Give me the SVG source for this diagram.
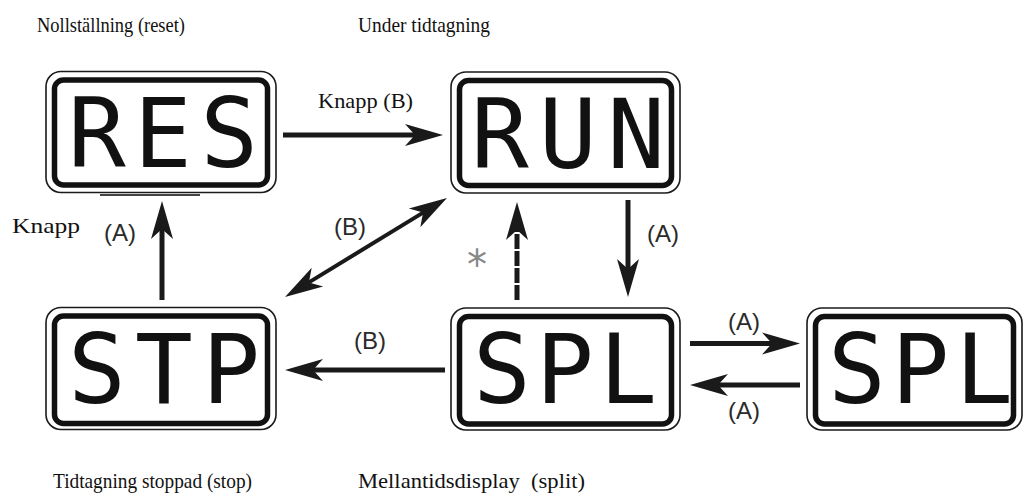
<svg xmlns="http://www.w3.org/2000/svg" width="1029" height="496" viewBox="0 0 1029 496">
<style>
.outer{fill:#fff;stroke:#1a1a1a;stroke-width:1.6}
.inner{fill:none;stroke:#111;stroke-width:5.5}
.lcd{font-family:"DejaVu Sans Mono",monospace;font-weight:normal;font-size:96px;fill:#111}
.cap{font-family:"Liberation Serif",serif;font-size:21px;fill:#111;white-space:pre}
.knapp{font-family:"Liberation Serif",serif;font-size:22px;fill:#111}
.lbl{font-family:"Liberation Sans",Arial,sans-serif;font-size:24px;fill:#2a2a2a;text-anchor:middle}
.ar{fill:none;stroke:#1a1a1a;stroke-width:5}
.dg{fill:none;stroke:#1a1a1a;stroke-width:4}
</style>
<defs>
<marker id="ah" viewBox="-12 -12 42 24" markerWidth="42" markerHeight="24" refX="0" refY="0" markerUnits="userSpaceOnUse" orient="auto-start-reverse">
<path d="M28,0 L-10,-11 L0,0 L-10,11 Z" fill="#1a1a1a"/>
</marker>
</defs>

<g id="captions">
<text class="cap" x="37" y="32" textLength="148" lengthAdjust="spacingAndGlyphs">Nollställning (reset)</text>
<text class="cap" x="358" y="32" textLength="132" lengthAdjust="spacingAndGlyphs">Under tidtagning</text>
<text class="cap" x="53" y="488" textLength="199" lengthAdjust="spacingAndGlyphs">Tidtagning stoppad (stop)</text>
<text class="cap" x="358" y="488" textLength="227" lengthAdjust="spacingAndGlyphs">Mellantidsdisplay  (split)</text>
</g>

<g id="node-res">
<rect class="outer" x="46" y="71.5" width="230" height="121" rx="15"/>
<rect class="inner" x="54.5" y="80" width="213" height="105" rx="9"/>
<text class="lcd" x="68" y="167" textLength="190" lengthAdjust="spacing">RES</text>
</g>

<g id="node-run">
<rect class="outer" x="451" y="72" width="229" height="121" rx="15"/>
<rect class="inner" x="459.5" y="80.5" width="212" height="105" rx="9"/>
<text class="lcd" x="471" y="168" textLength="194" lengthAdjust="spacing">RUN</text>
</g>

<g id="node-stp">
<rect class="outer" x="46" y="307.5" width="230" height="122" rx="15"/>
<rect class="inner" x="54.5" y="316" width="213" height="107.5" rx="9"/>
<text class="lcd" x="68" y="403" textLength="192" lengthAdjust="spacing">STP</text>
</g>

<g id="node-spl">
<rect class="outer" x="451" y="308" width="229" height="122" rx="15"/>
<rect class="inner" x="459.5" y="316.5" width="212" height="107.5" rx="9"/>
<text class="lcd" x="473" y="403" textLength="184" lengthAdjust="spacing">SPL</text>
</g>

<g id="node-spl2">
<rect class="outer" x="807" y="308" width="215" height="122" rx="15"/>
<rect class="inner" x="815.5" y="316.5" width="198" height="107.5" rx="9"/>
<text class="lcd" x="828" y="403" textLength="185" lengthAdjust="spacing">SPL</text>
</g>

<g id="connectors">
<line x1="100" y1="195" x2="200" y2="195" stroke="#444" stroke-width="2.2"/>
<path class="ar" d="M283,135 H415" marker-end="url(#ah)"/>
<path class="ar" d="M162,300 V229" marker-end="url(#ah)"/>
<path class="dg" d="M308.9,282.4 L423.1,212.6" marker-start="url(#ah)" marker-end="url(#ah)"/>
<path class="ar" d="M517,300 V230" stroke-dasharray="15 2" marker-end="url(#ah)"/>
<path class="ar" d="M628,200 V269" marker-end="url(#ah)"/>
<path class="ar" d="M445,370 H313" marker-end="url(#ah)"/>
<path class="ar" d="M690,343.5 H772" marker-end="url(#ah)"/>
<path class="ar" d="M800,385 H718" marker-end="url(#ah)"/>
</g>

<g id="labels">
<text class="knapp" x="318" y="108" textLength="95" lengthAdjust="spacingAndGlyphs">Knapp (B)</text>
<text class="knapp" x="12" y="233" textLength="68" lengthAdjust="spacingAndGlyphs">Knapp</text>
<text class="lbl" x="120" y="241">(A)</text>
<text class="lbl" x="350" y="235">(B)</text>
<text x="477" y="279" font-family="DejaVu Sans,sans-serif" font-size="40" fill="#888" text-anchor="middle">*</text>
<text class="lbl" x="663" y="242">(A)</text>
<text class="lbl" x="370" y="349">(B)</text>
<text class="lbl" x="744" y="330">(A)</text>
<text class="lbl" x="744" y="419">(A)</text>
</g>
</svg>
